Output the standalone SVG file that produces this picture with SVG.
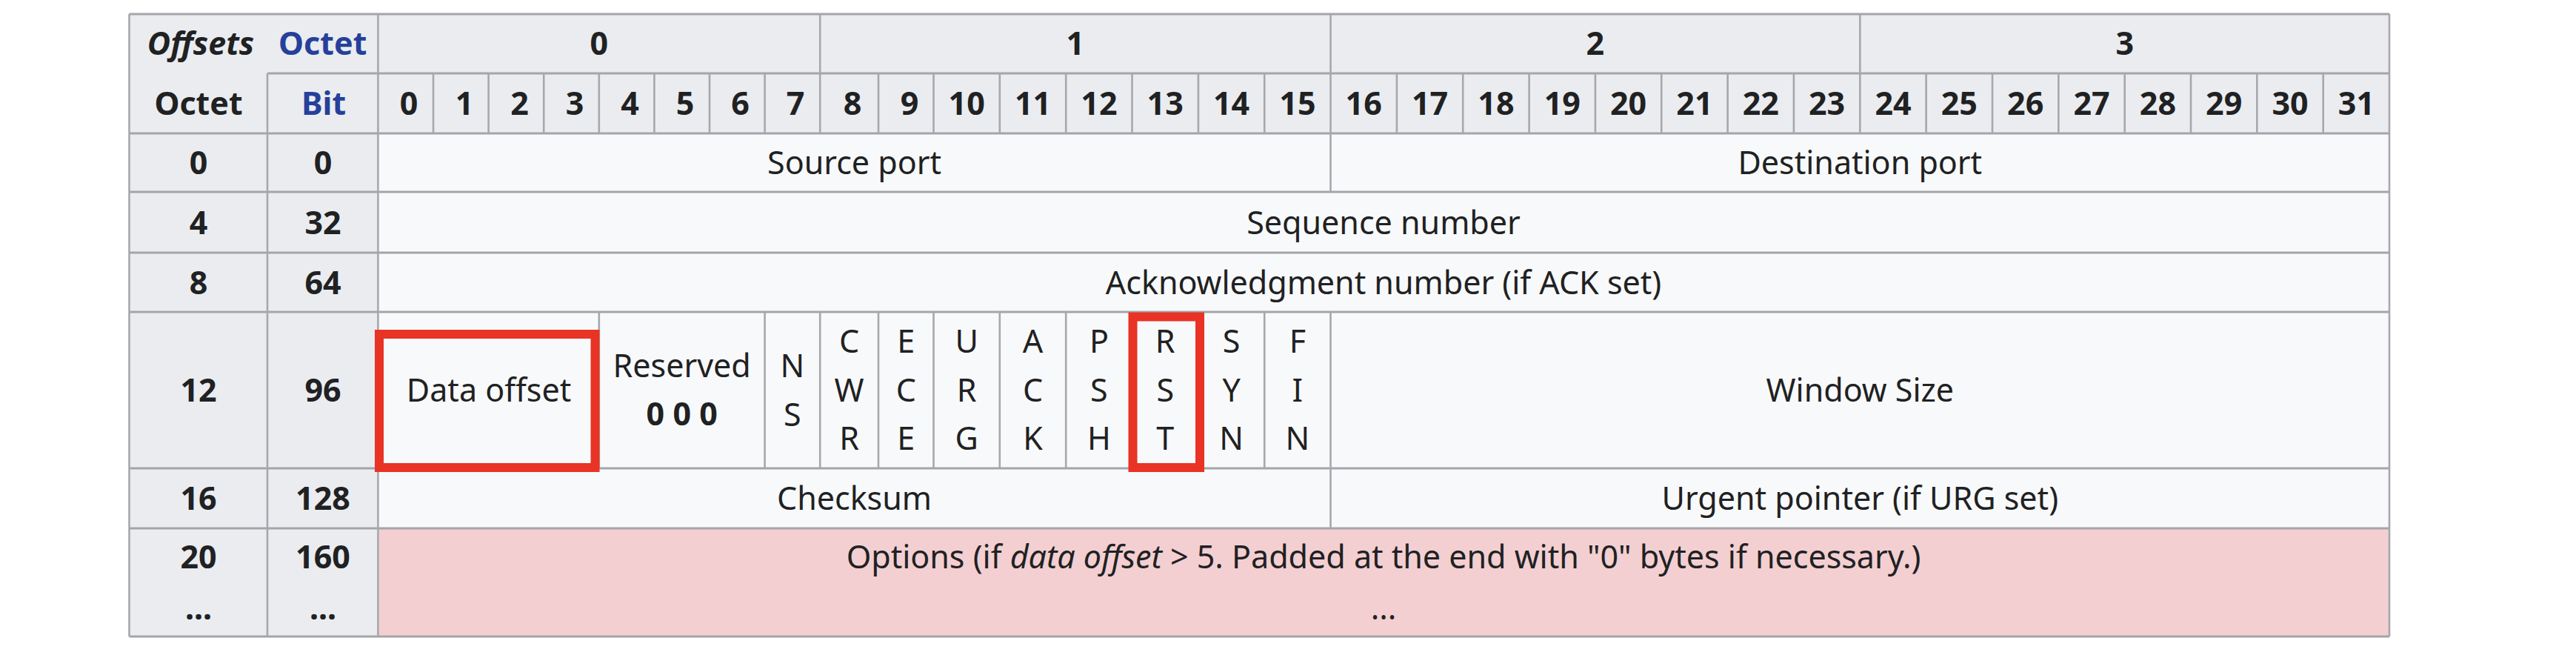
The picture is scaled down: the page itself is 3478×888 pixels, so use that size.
<svg xmlns="http://www.w3.org/2000/svg" width="3478" height="888" viewBox="0 0 3478 888">
<style>
.t{font-family:"Noto Sans","DejaVu Sans",sans-serif;font-size:43px;fill:#202122;text-anchor:middle}
.b{font-weight:bold}
.lk{fill:#26409a}
.hd{fill:#eaecf0}
.dc{fill:#f8f9fa}
.op{fill:#f3cfd1}
.h{stroke:#a4a5a9;stroke-width:3;fill:none}
.v{stroke:#a6a8ad;stroke-width:2.6;fill:none}
.red{fill:none;stroke:#e83325;stroke-width:12}
</style>
<rect width="3478" height="888" fill="#ffffff"/>
<g id="backgrounds">
<rect class="hd" x="174.5" y="19" width="3051.5" height="161"/>
<rect class="hd" x="174.5" y="180" width="335.9" height="679"/>
<rect class="dc" x="510.4" y="180" width="2715.6" height="533"/>
<rect class="op" x="510.4" y="713" width="2715.6" height="146"/>
</g>
<g id="connectors">
<path class="h" d="M174.5 19H3226M361 99H3226M174.5 180H3226M174.5 259H3226M174.5 341H3226M174.5 421H3226M174.5 632H3226M174.5 713H3226M174.5 859H3226"/>
<path class="v" d="M174.5 19V859M361 99V859M510.4 19V859M3226 19V859M1107.2 19V180M1796.5 19V180M2511.3 19V180"/>
<path class="v" d="M585 99V180M659.6 99V180M734.2 99V180M808.8 99V180M883.4 99V180M958 99V180M1032.6 99V180M1186 99V180M1260.5 99V180M1349.8 99V180M1439.2 99V180M1528.5 99V180M1617.9 99V180M1707.2 99V180M1885.9 99V180M1975.2 99V180M2064.6 99V180M2153.9 99V180M2243.2 99V180M2332.6 99V180M2421.9 99V180M2600.6 99V180M2690 99V180M2779.3 99V180M2868.7 99V180M2958 99V180M3047.3 99V180M3136.7 99V180"/>
<path class="v" d="M1796.5 180V259M808.8 421V632M1032.6 421V632M1107.2 421V632M1186 421V632M1260.5 421V632M1349.8 421V632M1439.2 421V632M1528.5 421V632M1617.9 421V632M1707.2 421V632M1796.5 421V632M1796.5 632V713"/>
</g>
<g id="header-row1">
<text class="t b" x="271" y="74" font-style="italic">Offsets</text>
<text class="t b lk" x="435.7" y="74">Octet</text>
<text class="t b" x="808.8" y="74">0</text>
<text class="t b" x="1451.8" y="74">1</text>
<text class="t b" x="2153.9" y="74">2</text>
<text class="t b" x="2868.7" y="74">3</text>
</g>
<g id="header-row2">
<text class="t b" x="268" y="155">Octet</text>
<text class="t b lk" x="437" y="155">Bit</text>
<text class="t b" x="552" y="155">0</text>
<text class="t b" x="627" y="155">1</text>
<text class="t b" x="701.5" y="155">2</text>
<text class="t b" x="776" y="155">3</text>
<text class="t b" x="850.5" y="155">4</text>
<text class="t b" x="925" y="155">5</text>
<text class="t b" x="999.5" y="155">6</text>
<text class="t b" x="1074" y="155">7</text>
<text class="t b" x="1151" y="155">8</text>
<text class="t b" x="1228" y="155">9</text>
<text class="t b" x="1305.2" y="155">10</text>
<text class="t b" x="1394.5" y="155">11</text>
<text class="t b" x="1483.9" y="155">12</text>
<text class="t b" x="1573.2" y="155">13</text>
<text class="t b" x="1662.6" y="155">14</text>
<text class="t b" x="1751.9" y="155">15</text>
<text class="t b" x="1841.2" y="155">16</text>
<text class="t b" x="1930.6" y="155">17</text>
<text class="t b" x="2019.9" y="155">18</text>
<text class="t b" x="2109.3" y="155">19</text>
<text class="t b" x="2198.6" y="155">20</text>
<text class="t b" x="2287.9" y="155">21</text>
<text class="t b" x="2377.3" y="155">22</text>
<text class="t b" x="2466.6" y="155">23</text>
<text class="t b" x="2556" y="155">24</text>
<text class="t b" x="2645.3" y="155">25</text>
<text class="t b" x="2734.7" y="155">26</text>
<text class="t b" x="2824" y="155">27</text>
<text class="t b" x="2913.4" y="155">28</text>
<text class="t b" x="3002.7" y="155">29</text>
<text class="t b" x="3092" y="155">30</text>
<text class="t b" x="3181.4" y="155">31</text>
</g>
<g id="row-0">
<text class="t b" x="268" y="235">0</text>
<text class="t b" x="436" y="235">0</text>
<text class="t" x="1153.5" y="235">Source port</text>
<text class="t" x="2511.3" y="235">Destination port</text>
</g>
<g id="row-4">
<text class="t b" x="268" y="315.5">4</text>
<text class="t b" x="436" y="315.5">32</text>
<text class="t" x="1868" y="315.5">Sequence number</text>
</g>
<g id="row-8">
<text class="t b" x="268" y="396.5">8</text>
<text class="t b" x="436" y="396.5">64</text>
<text class="t" x="1868" y="396.5">Acknowledgment number (if ACK set)</text>
</g>
<g id="row-12">
<text class="t b" x="268" y="542">12</text>
<text class="t b" x="436" y="542">96</text>
<g id="data-offset"><text class="t" x="660" y="542">Data offset</text></g>
<g id="reserved"><text class="t" x="920.7" y="509">Reserved</text><text class="t b" x="920.7" y="574">0 0 0</text></g>
<g id="ns"><text class="t" x="1069.9" y="509">N</text><text class="t" x="1069.9" y="574.5">S</text></g>
<g id="cwr"><text class="t" x="1146.6" y="476">C</text><text class="t" x="1146.6" y="541.5">W</text><text class="t" x="1146.6" y="607">R</text></g>
<g id="ece"><text class="t" x="1223.3" y="476">E</text><text class="t" x="1223.3" y="541.5">C</text><text class="t" x="1223.3" y="607">E</text></g>
<g id="urg"><text class="t" x="1305.2" y="476">U</text><text class="t" x="1305.2" y="541.5">R</text><text class="t" x="1305.2" y="607">G</text></g>
<g id="ack"><text class="t" x="1394.5" y="476">A</text><text class="t" x="1394.5" y="541.5">C</text><text class="t" x="1394.5" y="607">K</text></g>
<g id="psh"><text class="t" x="1483.9" y="476">P</text><text class="t" x="1483.9" y="541.5">S</text><text class="t" x="1483.9" y="607">H</text></g>
<g id="rst"><text class="t" x="1573.2" y="476">R</text><text class="t" x="1573.2" y="541.5">S</text><text class="t" x="1573.2" y="607">T</text></g>
<g id="syn"><text class="t" x="1662.6" y="476">S</text><text class="t" x="1662.6" y="541.5">Y</text><text class="t" x="1662.6" y="607">N</text></g>
<g id="fin"><text class="t" x="1751.9" y="476">F</text><text class="t" x="1751.9" y="541.5">I</text><text class="t" x="1751.9" y="607">N</text></g>
<g id="window-size"><text class="t" x="2511.3" y="542">Window Size</text></g>
</g>
<g id="row-16">
<text class="t b" x="268" y="688">16</text>
<text class="t b" x="436" y="688">128</text>
<text class="t" x="1153.5" y="688">Checksum</text>
<text class="t" x="2511.3" y="688">Urgent pointer (if URG set)</text>
</g>
<g id="row-20">
<text class="t b" x="268" y="767">20</text>
<text class="t b" x="436" y="767">160</text>
<text class="t b" x="268" y="836">...</text>
<text class="t b" x="436" y="836">...</text>
<text class="t" x="1868" y="767">Options (if <tspan font-style="italic">data offset</tspan> &gt; 5. Padded at the end with "0" bytes if necessary.)</text>
<text class="t" x="1868" y="836">...</text>
</g>
<g id="highlights">
<rect class="red" x="512" y="451" width="291.5" height="180"/>
<rect class="red" x="1529.5" y="427.5" width="90.5" height="203.5"/>
</g>
</svg>
